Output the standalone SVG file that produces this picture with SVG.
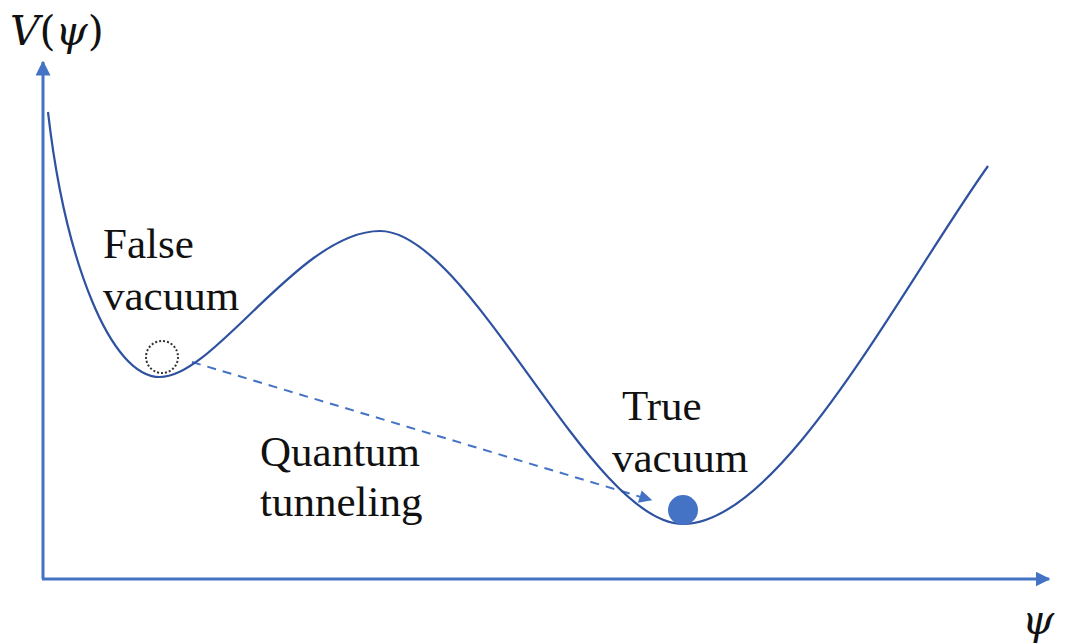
<svg xmlns="http://www.w3.org/2000/svg" width="1065" height="643" viewBox="0 0 1065 643">
<style>
.ax{stroke:#4472C4;stroke-width:3;fill:none}
.cv{stroke:#2F52A0;stroke-width:2.2;fill:none}
.lb{font-family:"Liberation Serif",serif;font-size:43px;fill:#111}
.mt{font-family:"DejaVu Serif","Liberation Serif",serif;font-size:41px;fill:#111}
.it{font-style:italic}
</style>
<defs>
<marker id="ah" viewBox="0 0 10 10" refX="9" refY="5" markerWidth="16" markerHeight="13" markerUnits="userSpaceOnUse" orient="auto"><path d="M0,0L10,5L0,10z" fill="#4472C4"/></marker>
<marker id="ah2" viewBox="0 0 10 10" refX="9" refY="5" markerWidth="5" markerHeight="5" orient="auto"><path d="M0,0L10,5L0,10z" fill="#4472C4"/></marker>
</defs>
<g id="connectors">
<line class="ax" x1="43" y1="579" x2="43" y2="62" marker-end="url(#ah2)"/>
<line class="ax" x1="42" y1="579" x2="1049" y2="579" marker-end="url(#ah2)"/>
<line x1="192" y1="362" x2="651" y2="500" stroke="#4472C4" stroke-width="2" stroke-dasharray="9,7" marker-end="url(#ah)"/>
</g>
<g id="potential">
<path class="cv" d="M48,112 C65,260 110,377 160,377 C215,377 300,231 380,231 C470,231 590,524 683,524 C780,524 900,290 988,166"/>
</g>
<g id="false-ball"><circle cx="162" cy="357" r="16" fill="none" stroke="#333" stroke-width="2" stroke-dasharray="2,2"/></g>
<g id="true-ball"><circle cx="683" cy="510" r="15" fill="#4472C4"/></g>
<g id="labels">
<text class="mt" x="10" y="45"><tspan class="it">V</tspan>(<tspan class="it">ψ</tspan>)</text>
<text class="mt it" x="1022" y="634">ψ</text>
<text class="lb" x="103" y="258">False</text>
<text class="lb" x="103" y="310">vacuum</text>
<text class="lb" x="622" y="420">True</text>
<text class="lb" x="612" y="472">vacuum</text>
<text class="lb" x="260" y="466">Quantum</text>
<text class="lb" x="260" y="516">tunneling</text>
</g>
</svg>
